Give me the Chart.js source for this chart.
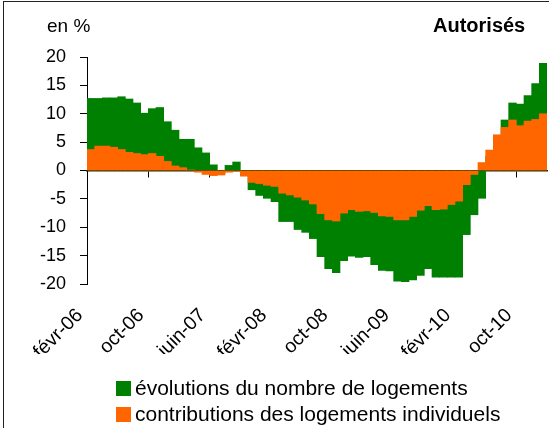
<!DOCTYPE html>
<html><head><meta charset="utf-8">
<script src="https://cdn.jsdelivr.net/npm/chart.js@4"></script>
<style>
html,body{margin:0;padding:0;background:#fff;}
#wrap{position:relative;width:549px;height:428px;overflow:hidden;font-family:"Liberation Sans",Arial,sans-serif;color:#000;}
#frame{position:absolute;left:3px;top:1px;width:600px;height:500px;border:1px solid #222;box-sizing:border-box;}
#c{position:absolute;left:0;top:0;}
#unit{position:absolute;left:47px;top:14px;font-size:19px;line-height:24px;}
#title{position:absolute;left:433px;top:13px;font-size:20px;font-weight:bold;line-height:24px;}
#legend{position:absolute;left:116px;top:375px;font-size:21px;line-height:26px;}
#legend .row{display:flex;align-items:center;white-space:nowrap;}
#legend .sw{display:inline-block;width:15px;height:15px;margin-right:4px;}
</style>
</head><body>
<div id="wrap">
  <div id="frame"></div>
  <canvas id="c" width="549" height="428"></canvas>
  <div id="unit">en %</div>
  <div id="title">Autorisés</div>
  <div id="legend"></div>
</div>
<script>
const categories = [
 'févr-06','mars-06','avr-06','mai-06','juin-06','juil-06','août-06','sept-06','oct-06','nov-06','déc-06',
 'janv-07','févr-07','mars-07','avr-07','mai-07','juin-07','juil-07','août-07','sept-07','oct-07','nov-07','déc-07',
 'janv-08','févr-08','mars-08','avr-08','mai-08','juin-08','juil-08','août-08','sept-08','oct-08','nov-08','déc-08',
 'janv-09','févr-09','mars-09','avr-09','mai-09','juin-09','juil-09','août-09','sept-09','oct-09','nov-09','déc-09',
 'janv-10','févr-10','mars-10','avr-10','mai-10','juin-10','juil-10','août-10','sept-10','oct-10','nov-10','déc-10',
 'janv-11'
];
const tickLabels = ['févr-06','oct-06','juin-07','févr-08','oct-08','juin-09','févr-10','oct-10'];
const seriesNames = ['évolutions du nombre de logements','contributions des logements individuels'];
// total change (green)
const totalChange = [
 12.7,12.7,12.8,12.8,13.0,12.6,11.9,10.1,10.9,11.1,
 8.6,7.1,5.5,5.5,4.0,3.1,1.0,-0.5,0.9,1.5,
 -0.6,-3.4,-4.4,-4.9,-5.5,-9.0,-9.0,-10.4,-10.9,-12.0,
 -15.2,-17.3,-18.0,-15.9,-15.1,-15.3,-15.2,-16.6,-17.6,-17.7,
 -19.5,-19.6,-19.3,-18.5,-17.3,-18.8,-18.8,-18.8,-18.8,-11.3,
 -7.8,-4.9,2.5,5.5,8.9,11.9,11.7,13.2,15.3,18.9
];
// contribution of individual dwellings (orange)
const individualContrib = [
 3.7,4.3,4.3,4.1,3.7,3.2,3.0,2.8,3.0,2.5,
 1.6,0.8,0.5,0.1,-0.3,-0.7,-0.9,-0.8,-0.3,-0.1,
 -1.0,-2.1,-2.3,-2.6,-2.8,-4.0,-4.3,-4.7,-5.2,-5.9,
 -7.6,-8.7,-8.9,-7.5,-6.9,-7.2,-7.1,-7.4,-8.0,-8.1,
 -8.7,-8.7,-8.1,-7.0,-6.2,-6.9,-6.8,-6.0,-5.4,-2.5,
 -0.7,1.4,3.6,6.3,7.6,8.9,7.9,8.7,9.0,10.0
];
const colors = ['#008000','#FF6600'];
const yTicks = {min:-20, max:20, step:5};
const FONT = "'Liberation Sans', Arial, sans-serif";

const lg = document.getElementById('legend');
seriesNames.forEach((n,i)=>{
  const r=document.createElement('div'); r.className='row';
  const s=document.createElement('span'); s.className='sw'; s.style.background=colors[i];
  const t=document.createElement('span'); t.textContent=n;
  r.appendChild(s); r.appendChild(t); lg.appendChild(r);
});

new Chart(document.getElementById('c'), {
  type:'bar',
  data:{
    labels:categories,
    datasets:[
      {label:seriesNames[1], data:individualContrib, backgroundColor:colors[1], xAxisID:'x', grouped:false, order:0,
       categoryPercentage:1, barPercentage:1, borderWidth:0},
      {label:seriesNames[0], data:totalChange, backgroundColor:colors[0], xAxisID:'x', grouped:false, order:1,
       categoryPercentage:1, barPercentage:1, borderWidth:0}
    ]
  },
  options:{
    responsive:false, animation:false, devicePixelRatio:1,
    layout:{padding:{left:0,right:2,top:57,bottom:74}},
    plugins:{legend:{display:false}, tooltip:{enabled:false}},
    scales:{
      x:{
        position:'bottom',
        grid:{display:false, drawTicks:false},
        border:{display:false},
        afterFit:s=>{s.height=70; s.paddingLeft=0; s.paddingRight=0;},
        ticks:{autoSkip:false, minRotation:45, maxRotation:45, padding:20, labelOffset:-11,
          color:'#000', font:{size:19.5, family:FONT},
          callback:(v,i)=> tickLabels.includes(categories[i]) ? categories[i] : ''}
      },
      x0:{
        type:'category', position:{y:0}, offset:true,
        afterFit:s=>{s.paddingLeft=0; s.paddingRight=0;},
        grid:{offset:true, drawOnChartArea:false, drawTicks:true, tickLength:6,
          color:c=> (c.index % 8 === 0) ? '#000' : 'rgba(0,0,0,0)'},
        border:{display:true, color:'#3a2000', width:1.5},
        ticks:{display:false}
      },
      y:{
        min:yTicks.min, max:yTicks.max,
        afterFit:s=>{s.width=87; s.paddingTop=0; s.paddingBottom=0;},
        ticks:{stepSize:yTicks.step, padding:14, color:'#000', font:{size:18, family:FONT}},
        grid:{drawOnChartArea:false, drawTicks:true, tickLength:7, color:'#000'},
        border:{display:true, color:'#000', width:1}
      }
    }
  }
});
</script>
</body></html>
